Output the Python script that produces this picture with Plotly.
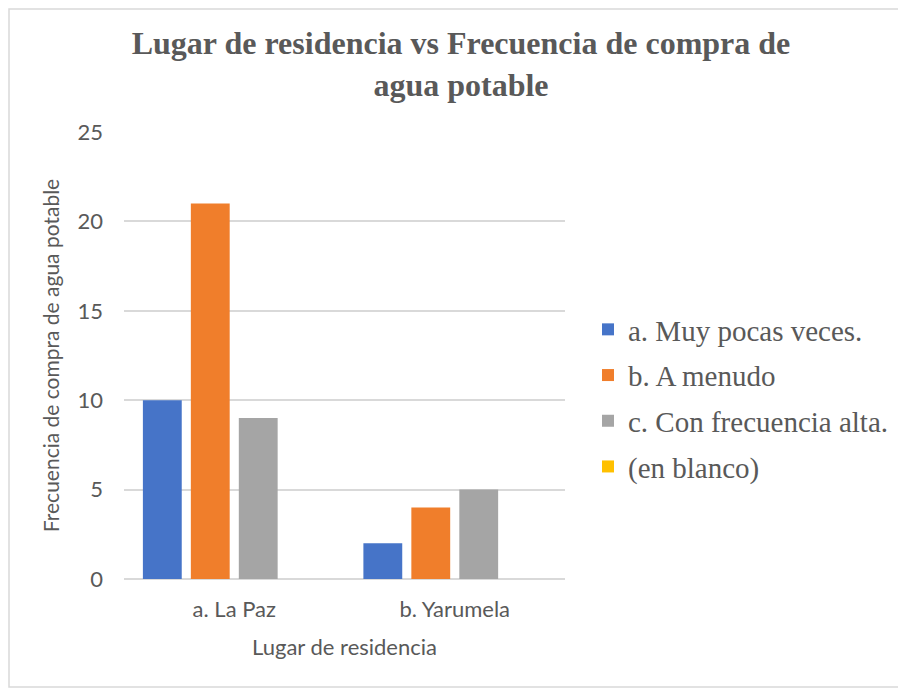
import plotly.graph_objects as go

lugares = ["a. La Paz", "b. Yarumela"]
series = ["a. Muy pocas veces.", "b. A menudo", "c. Con frecuencia alta.", "(en blanco)"]
muy_pocas = [10, 2]
a_menudo = [21, 4]
frecuencia_alta = [9, 5]
en_blanco = [0, 0]
y_ticks = [0, 5, 10, 15, 20, 25]

colores = ["#4674C8", "#F07E2B", "#A5A5A5", "#FFC000"]
valores = [muy_pocas, a_menudo, frecuencia_alta, en_blanco]

# la página añade 8 px de margen al cuerpo
OFF = 8
W, H = 906 - OFF, 691 - OFF
L, T = 124 - OFF, 132 - OFF
pw, ph = 441, 447
R, B = W - L - pw, H - T - ph

fig = go.Figure()
for nombre, vals, col in zip(series, valores, colores):
    fig.add_trace(go.Bar(
        x=lugares,
        y=vals,
        name=nombre,
        legendgroup=nombre,
        marker=dict(color=col, line=dict(width=0)),
    ))

# borde del área del gráfico
fig.add_shape(
    type="rect", xref="paper", yref="paper",
    x0=(1 - L) / pw, x1=(902 - OFF - L) / pw,
    y0=(H - B - (687 - OFF)) / ph, y1=(H - B - 1) / ph,
    line=dict(color="#D9D9D9", width=1.5),
    layer="below",
)

fig.update_layout(
    width=W, height=H,
    margin=dict(l=L, r=R, t=T, b=B),
    paper_bgcolor="#FFFFFF",
    plot_bgcolor="#FFFFFF",
    barmode="group",
    bargap=0.13,
    bargroupgap=0.19,
    title=dict(
        text="Lugar de residencia vs Frecuencia de compra de<br>agua potable",
        x=(461 - OFF) / W, xanchor="center",
        y=1 - 46 / H, yanchor="middle",
        font=dict(family="Liberation Serif", size=32, color="#595959", weight="bold"),
    ),
    font=dict(family="Lato", size=22, color="#595959"),
    xaxis=dict(
        title=dict(text="Lugar de residencia", font=dict(size=22, color="#595959"), standoff=18),
        tickfont=dict(size=22, color="#595959"),
        showline=False,
        showgrid=False,
        ticklabelstandoff=15,
    ),
    yaxis=dict(
        title=dict(text="Frecuencia de compra de agua potable", font=dict(size=21, color="#595959"), standoff=12),
        range=[0, 25],
        tickvals=y_ticks,
        tickfont=dict(size=22, color="#595959"),
        gridcolor="#D9D9D9",
        gridwidth=1.5,
        zeroline=True,
        zerolinecolor="#D9D9D9",
        zerolinewidth=1.5,
        ticklabelstandoff=20,
    ),
    legend=dict(
        x=(588 - OFF - L) / pw, xanchor="left",
        y=(H - B - (398 - OFF)) / ph, yanchor="middle",
        font=dict(family="Liberation Serif", size=29, color="#595959"),
        tracegroupgap=5,
        bgcolor="rgba(0,0,0,0)",
    ),
    showlegend=True,
)

fig.write_html("out.html")
